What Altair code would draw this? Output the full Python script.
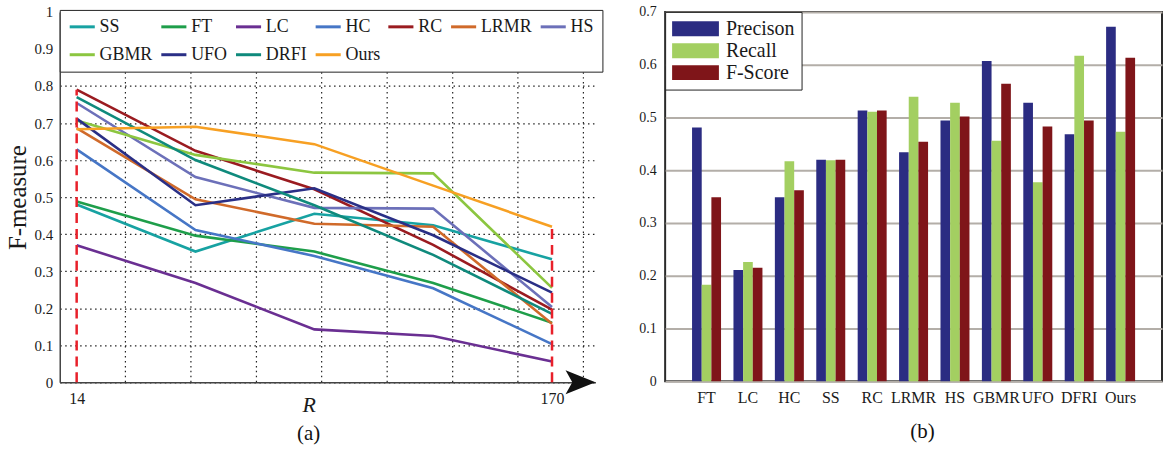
import altair as alt
import pandas as pd

FONT = "Liberation Serif"

# ---------------- panel (a): F-measure vs R ----------------
R_values = [14, 53, 92, 131, 170]
series_names = ["SS", "FT", "LC", "HC", "RC", "LRMR", "HS", "GBMR", "UFO", "DRFI", "Ours"]
SS = [0.480, 0.353, 0.455, 0.424, 0.332]
FT = [0.488, 0.396, 0.353, 0.268, 0.161]
LC = [0.370, 0.268, 0.143, 0.125, 0.056]
HC = [0.629, 0.411, 0.341, 0.254, 0.103]
RC = [0.790, 0.625, 0.521, 0.371, 0.196]
LRMR = [0.686, 0.494, 0.428, 0.420, 0.158]
HS = [0.754, 0.554, 0.471, 0.469, 0.203]
GBMR = [0.707, 0.614, 0.566, 0.564, 0.255]
UFO = [0.712, 0.478, 0.524, 0.397, 0.242]
DRFI = [0.770, 0.600, 0.478, 0.344, 0.185]
Ours = [0.683, 0.690, 0.643, 0.531, 0.420]
series_values = [SS, FT, LC, HC, RC, LRMR, HS, GBMR, UFO, DRFI, Ours]
series_colors = ["#17a2a2", "#1e9e4a", "#6a2f92", "#4676c6", "#9a1b20", "#d06a2a",
                 "#6c70b9", "#8cc640", "#2a2f86", "#0f8a7c", "#f7a023"]

grid_x = [30.0, 51.5, 73.0, 94.4, 115.9, 137.4, 158.8, 180.3]
x_label_values = [14, 170]
y_ticks_a = [0.0, 0.1, 0.2, 0.3, 0.4, 0.5, 0.6, 0.7, 0.8, 0.9, 1.0]
x_min, x_max = 8.45, 184.25

rows = []
for name, vals in zip(series_names, series_values):
    for r, v in zip(R_values, vals):
        rows.append({"series": name, "R": r, "F": v})
df_lines = pd.DataFrame(rows)

df_red = pd.DataFrame({
    "R": x_label_values,
    "F": [0, 0],
    "F2": [max(v[0] for v in series_values), max(v[-1] for v in series_values)],
})
df_grid = pd.DataFrame({"R": grid_x, "F": [0] * len(grid_x), "F2": [1] * len(grid_x)})
px_per_unit = 538 / (x_max - x_min)
df_arrow = pd.DataFrame({"R": [x_max - 15 / px_per_unit], "F": [0]})

xscale = alt.Scale(domain=[x_min, x_max], nice=False, zero=False)
yscale = alt.Scale(domain=[0, 1], nice=False, zero=True)

ax_x = alt.Axis(values=x_label_values, format="d",
                labelOverlap=False, labelFontSize=16, labelPadding=8,
                ticks=False, domainColor="#444", domainWidth=1.5, grid=False,
                title="R", titleFontStyle="italic", titleFontSize=22,
                titleX=250, titleY=12, titleBaseline="top")
ax_y = alt.Axis(values=y_ticks_a, format="~g", labelFontSize=15, labelPadding=7,
                labelOverlap=False, tickCount=11, ticks=False, domainColor="#444", domainWidth=1.5,
                grid=True, gridDash=[1.5, 3.5], gridColor="#222", gridWidth=1.2,
                title="F-measure", titleFontSize=25, titlePadding=4)

vgrid = alt.Chart(df_grid).mark_rule(
    color="#222", strokeWidth=1.2, strokeDash=[1.5, 3.5]
).encode(
    x=alt.X("R:Q", scale=xscale, axis=ax_x),
    y=alt.Y("F:Q", scale=yscale, axis=ax_y),
    y2="F2:Q",
)

lines = alt.Chart(df_lines).mark_line(strokeWidth=2.6).encode(
    x=alt.X("R:Q", scale=xscale, axis=ax_x),
    y=alt.Y("F:Q", scale=yscale, axis=ax_y),
    color=alt.Color("series:N",
                    scale=alt.Scale(domain=series_names, range=series_colors),
                    legend=alt.Legend(title=None, orient="none", legendX=0, legendY=-2,
                                      direction="horizontal", columns=7,
                                      symbolType="M-1,0H2.6", symbolSize=196, symbolStrokeWidth=3,
                                      labelFontSize=18, labelOffset=14, labelLimit=200,
                                      columnPadding=2, rowPadding=10, padding=8,
                                      strokeColor="#222", fillColor="white")),
    order=alt.Order("R:Q"),
)

red = alt.Chart(df_red).mark_rule(color="#e8202a", strokeWidth=2.5, strokeDash=[10, 6]).encode(
    x=alt.X("R:Q", scale=xscale, axis=ax_x),
    y=alt.Y("F:Q", scale=yscale, axis=ax_y),
    y2="F2:Q",
)

arrow = alt.Chart(df_arrow).mark_point(
    shape="M-1,-0.8L1,0L-1,0.8L-0.55,0Z", filled=True, color="#111", size=900, opacity=1
).encode(
    x=alt.X("R:Q", scale=xscale, axis=ax_x),
    y=alt.Y("F:Q", scale=yscale, axis=ax_y),
)

panel_a = alt.layer(vgrid, lines, red, arrow).properties(
    width=538, height=372,
    title=alt.TitleParams("(a)", orient="bottom", fontSize=21, fontWeight="normal",
                          font=FONT, dx=-19, offset=8, color="#111"),
)

# ---------------- panel (b): Precision / Recall / F-Score ----------------
methods = ["FT", "LC", "HC", "SS", "RC", "LRMR", "HS", "GBMR", "UFO", "DFRI", "Ours"]
metrics = ["Precison", "Recall", "F-Score"]
precision = [0.481, 0.211, 0.349, 0.420, 0.513, 0.434, 0.494, 0.607, 0.528, 0.468, 0.672]
recall = [0.183, 0.226, 0.417, 0.419, 0.511, 0.539, 0.528, 0.456, 0.377, 0.617, 0.473]
fscore = [0.349, 0.215, 0.362, 0.420, 0.513, 0.454, 0.502, 0.564, 0.483, 0.494, 0.613]
metric_colors = ["#2b2c82", "#a3cf61", "#7f1519"]
y_ticks_b = [0, 0.1, 0.2, 0.3, 0.4, 0.5, 0.6, 0.7]

brows = []
for m, p, r, f in zip(methods, precision, recall, fscore):
    brows.append({"method": m, "metric": "Precison", "value": p})
    brows.append({"method": m, "metric": "Recall", "value": r})
    brows.append({"method": m, "metric": "F-Score", "value": f})
df_bars = pd.DataFrame(brows)

bars = alt.Chart(df_bars).mark_bar().encode(
    x=alt.X("method:N", sort=methods,
            scale=alt.Scale(paddingInner=0.3, paddingOuter=0.65),
            axis=alt.Axis(title=None, labelAngle=0, labelFontSize=16, labelPadding=8,
                          ticks=False, domain=False, grid=False)),
    xOffset=alt.XOffset("metric:N", sort=metrics, scale=alt.Scale(paddingInner=0, paddingOuter=0)),
    y=alt.Y("value:Q", scale=alt.Scale(domain=[0, 0.7], nice=False),
            axis=alt.Axis(values=y_ticks_b, format="~g", title=None, labelFontSize=14,
                          labelPadding=9, labelOverlap=False, ticks=False, domain=False,
                          grid=True, gridColor="#b3aea8", gridWidth=2)),
    color=alt.Color("metric:N", scale=alt.Scale(domain=metrics, range=metric_colors),
                    legend=alt.Legend(title=None, orient="top-left", offset=0,
                                      symbolType="M-1,-0.75H3.7V0.75H-1Z", symbolSize=400,
                                      symbolStrokeWidth=0, labelFontSize=20, labelOffset=34,
                                      rowPadding=2, padding=7, strokeColor="#222",
                                      fillColor="white")),
).properties(
    width=499, height=371,
    view=alt.ViewBackground(stroke="#2a2a2a", strokeWidth=2),
    title=alt.TitleParams("(b)", orient="bottom", fontSize=21, fontWeight="normal",
                          font=FONT, dx=9, offset=16, color="#111"),
)

chart = alt.hconcat(panel_a, bars, spacing=34).resolve_scale(
    color="independent"
).properties(
    padding={"left": 5, "top": 3, "right": 0, "bottom": 0}
).configure_view(stroke=None).configure_axis(
    labelFont=FONT, titleFont=FONT, labelColor="#1a1a1a", titleColor="#1a1a1a",
    titleFontWeight="normal"
).configure_legend(labelFont=FONT, labelColor="#1a1a1a").configure_title(font=FONT)

chart.save("out.html", embed_options={"renderer": "svg", "actions": False})
